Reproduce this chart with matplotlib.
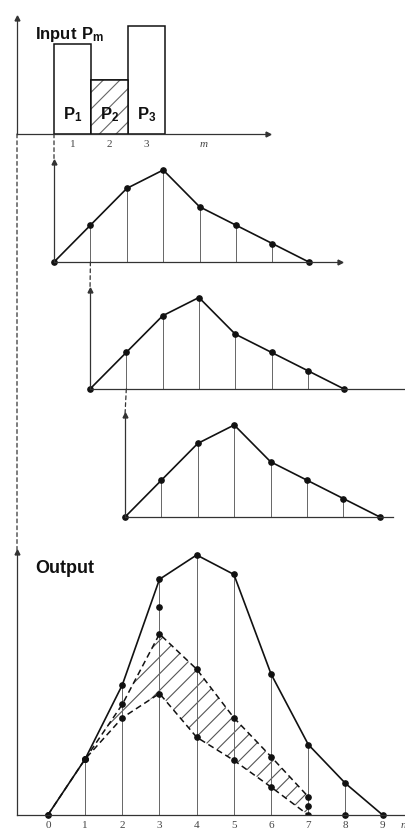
import matplotlib.pyplot as plt
from matplotlib.patches import ConnectionPatch

plt.rcParams['mathtext.fontset'] = 'custom'
plt.rcParams['mathtext.bf'] = 'Liberation Sans:bold'
plt.rcParams['mathtext.rm'] = 'Liberation Sans'
plt.rcParams['hatch.linewidth'] = 0.8

# rainfall pulses P_m
m = [1, 2, 3]
p = [2.5, 1.5, 3.0]
p_labels = [r'$\mathbf{P_1}$', r'$\mathbf{P_2}$', r'$\mathbf{P_3}$']
m_ticks = [1, 2, 3, 4.55]
m_ticklabels = ['1', '2', '3', 'm']

# unit response ordinates (same shape for each lagged pulse)
t = [0, 1, 2, 3, 4, 5, 6, 7]
uh = [0, 2, 4, 5, 3, 2, 1, 0]

# output hydrograph and its components
n = [0, 1, 2, 3, 4, 5, 6, 7, 8, 9]
q_total = [0, 2.3, 5.35, 9.7, 10.7, 9.9, 5.8, 2.9, 1.3, 0]
n_first = [0, 1, 2, 3, 4, 5, 6, 7]
q_first = [0, 2.3, 4.0, 5.0, 3.2, 2.25, 1.15, 0]
n_second = [1, 2, 3, 4, 5, 6, 7]
q_second = [2.3, 4.55, 7.45, 6.0, 4.0, 2.4, 0.75]
n_extra = [3, 7, 8]
q_extra = [8.55, 0.35, 0]
n_ticks = n + [9.55]
n_ticklabels = [str(v) for v in n] + ['n']

W, H = 406, 834
ink = '#111111'
thin = '#666666'
axis_c = '#333333'
dot = 3.8

fig = plt.figure(figsize=(W / 100, H / 100), dpi=100)


def panel(left, top, right, bottom, x0, ux, uy, arrow_x=True):
    ax = fig.add_axes([left / W, 1 - bottom / H, (right - left) / W, (bottom - top) / H])
    ax.set_xlim(x0, x0 + (right - left) / ux)
    ax.set_ylim(0, (bottom - top) / uy)
    ax.patch.set_alpha(0)
    for s in ['top', 'right']:
        ax.spines[s].set_visible(False)
    for s in ['left', 'bottom']:
        ax.spines[s].set_color(axis_c)
        ax.spines[s].set_linewidth(0.9)
    ax.set_xticks([])
    ax.set_yticks([])
    ax.tick_params(length=0)
    ax.plot(0, 1, '^', ms=3.5, color=axis_c, transform=ax.transAxes, clip_on=False)
    if arrow_x:
        ax.plot(1, 0, '>', ms=3.5, color=axis_c, transform=ax.transAxes, clip_on=False)
    return ax


def response(ax):
    ax.vlines(t[1:-1], 0, uh[1:-1], color=thin, lw=0.7)
    ax.plot(t, uh, '-o', color=ink, lw=1.2, ms=dot, clip_on=False)


# input pulses
ax_in = panel(17, 18, 268, 134, -0.5, 37, 36)
ax_in.bar(m, p, width=1, facecolor='white', edgecolor=ink, linewidth=1.1)
ax_in.bar(m[1], p[1], width=1, facecolor='white', edgecolor='#666666',
          hatch='//', linewidth=0)
ax_in.bar(m[1], p[1], width=1, facecolor='none', edgecolor=ink, linewidth=1.1)
for mi, lab in zip(m, p_labels):
    ax_in.text(mi, 0.4, lab, ha='center', va='baseline', fontsize=12, color=ink)
ax_in.set_xticks(m_ticks, labels=m_ticklabels, fontfamily='Liberation Serif',
                 fontsize=8, color='#444444')
ax_in.get_xticklabels()[-1].set_fontstyle('italic')
ax_in.tick_params(axis='x', pad=4)
ax_in.text(0.072, 0.82, r'$\mathbf{Input\ P_m}$', transform=ax_in.transAxes,
           fontsize=12, va='baseline', color=ink)

# lagged responses to P1, P2, P3
ax_r1 = panel(54, 162, 340, 262, 0, 36.4, 18.4)
response(ax_r1)
ax_r2 = panel(90, 290, 406, 389, 0, 36.3, 18.3, arrow_x=False)
response(ax_r2)
ax_r3 = panel(125, 415, 393, 517, 0, 36.4, 18.4, arrow_x=False)
response(ax_r3)

# output
ax_out = panel(17, 552, 406, 815, -0.83, 37.2, 24.3, arrow_x=False)
ax_out.vlines(n[1:-1], 0, q_total[1:-1], color=thin, lw=0.7)
ax_out.fill_between(n_second, q_first[1:], q_second, facecolor='none',
                    edgecolor='#555555', hatch='//', linewidth=0)
ax_out.plot(n_first, q_first, '--o', color=ink, lw=1.1, ms=dot, dashes=(4, 2.5))
ax_out.plot(n_second, q_second, '--o', color=ink, lw=1.1, ms=dot, dashes=(4, 2.5))
ax_out.plot(n, q_total, '-o', color=ink, lw=1.2, ms=dot, clip_on=False)
ax_out.plot(n_extra, q_extra, 'o', color=ink, ms=dot, clip_on=False)
ax_out.set_xticks(n_ticks, labels=n_ticklabels, fontfamily='Liberation Serif',
                  fontsize=8, color='#444444')
ax_out.get_xticklabels()[-1].set_fontstyle('italic')
ax_out.tick_params(axis='x', pad=4)
ax_out.text(0.046, 0.92, 'Output', transform=ax_out.transAxes, fontsize=13,
            fontweight='bold', fontfamily='Liberation Sans', va='baseline', color=ink)

# dashed projection lines between the panels
links = [
    (ax_in, (-0.5, 0), ax_out),
    (ax_in, (0.5, 0), ax_r1),
    (ax_r1, (1, 0), ax_r2),
    (ax_r2, (1, 0), ax_r3),
]
for src, xy, dst in links:
    con = ConnectionPatch(xyA=xy, coordsA=src.transData, xyB=(0, 1),
                          coordsB=dst.transAxes, color=axis_c, lw=0.9,
                          linestyle=(0, (3, 2.5)))
    fig.add_artist(con)

fig.savefig('out.png', dpi=100, facecolor='white')
